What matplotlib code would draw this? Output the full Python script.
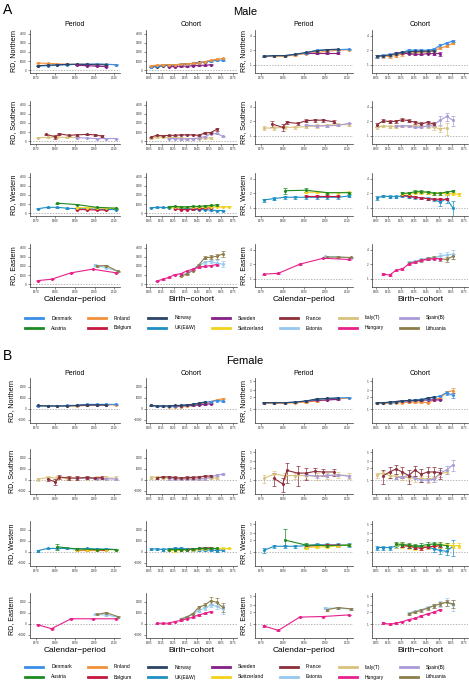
import numpy as np
import matplotlib
matplotlib.use('Agg')
import matplotlib.pyplot as plt
from matplotlib.lines import Line2D

plt.rcParams['font.family'] = ['Liberation Sans', 'DejaVu Sans']

# country colours
COUNTRIES = ['Denmark', 'Finland', 'Norway', 'Sweden', 'France', 'Italy(T)', 'Spain(B)',
             'Austria', 'Belgium', 'UK(E&W)', 'Switzerland', 'Estonia', 'Hungary', 'Lithuania']
COLORS = ['#3a8ee6', '#f0913a', '#2b4466', '#851f85', '#8c2f3a', '#d9c27e', '#a99bd8',
          '#1e8a24', '#c3173f', '#1f8fc4', '#f2d21b', '#95c8ee', '#e8208a', '#8c7d4a']
COLOR = dict(zip(COUNTRIES, COLORS))

REGIONS = ['Northern', 'Southern', 'Western', 'Eastern']

# each series: (first year or list of years, values, error half-width); 5-year steps when a start year is given
# ---------------- MALE ----------------
M_RD_PER_N = {'Finland': (1971, [800, 750, 700, 650, 650, 650, 650, 650, 620], 30),
              'Denmark': (1971, [450, 500, 550, 600, 650, 650, 700, 650, 600], 30),
              'Norway': (1971, [500, 550, 600, 650, 650, 650, 600, 600], 30),
              'Sweden': (1991, [550, 500, 450, 400], 30)}
M_RD_COH_N = {'Norway': (1906, [350, 400, 500, 550, 600, 650, 700, 750, 850, 900], 40),
              'Sweden': (1921, [400, 400, 450, 450, 500, 550, 550, 600], 40),
              'Denmark': (1906, [400, 450, 550, 600, 600, 650, 700, 750, 800, 900, 1000, 1100, 1100], 60),
              'Finland': (1906, [500, 550, 600, 600, 600, 650, 700, 750, 800, 950, 1100, 1200, 1300], 60)}
M_RR_PER_N = {'Finland': (1971, [1.5, 1.5, 1.5, 1.6, 1.7, 1.8, 1.9, 2.0, 2.05], 0.05),
              'Sweden': (1991, [1.75, 1.75, 1.75, 1.75], 0.06),
              'Denmark': (1971, [1.5, 1.55, 1.55, 1.65, 1.75, 2.0, 2.05, 2.05, 2.1], 0.06),
              'Norway': (1971, [1.5, 1.55, 1.55, 1.65, 1.8, 1.95, 2.05, 2.1], 0.05)}
M_RR_COH_N = {'Finland': (1906, [1.5, 1.5, 1.5, 1.55, 1.65, 1.75, 1.75, 1.8, 1.85, 1.95, 2.2, 2.4, 2.8], 0.1),
              'Sweden': (1921, [1.75, 1.75, 1.7, 1.65, 1.65, 1.7, 1.7, 1.7], [0.05, 0.05, 0.05, 0.05, 0.05, 0.06, 0.08, 0.15]),
              'Denmark': (1906, [1.5, 1.55, 1.6, 1.7, 1.8, 2.0, 2.0, 2.0, 2.0, 2.1, 2.5, 2.8, 3.1], 0.12),
              'Norway': (1906, [1.5, 1.55, 1.6, 1.7, 1.8, 1.85, 1.9, 1.9, 1.9, 1.95], 0.06)}

M_RD_PER_S = {'Italy(T)': (1971, [400, 420, 450, 420, 400], 80),
              'Spain(B)': (1991, [400, 350, 300, 300, 300], 40),
              'France': ([1975, 1980, 1982, 1987, 1991, 1996, 2000, 2004],
                         [750, 500, 800, 650, 700, 750, 700, 550], [80, 200, 80, 80, 80, 80, 80, 80])}
M_RD_COH_S = {'Italy(T)': (1906, [350, 450, 450, 400, 400, 350, 300, 300, 300, 350, 350], 80),
              'Spain(B)': (1921, [300, 300, 250, 250, 300, 350, 500, 800, 850, 550], 60),
              'France': (1906, [450, 650, 600, 650, 650, 700, 700, 700, 650, 900, 950, 1300],
                         [60, 60, 60, 60, 60, 60, 60, 60, 60, 80, 100, 200])}
M_RR_PER_S = {'Italy(T)': (1971, [1.45, 1.45, 1.5, 1.5, 1.55, 1.6, 1.65, 1.7, 1.7], 0.12),
              'Spain(B)': (1991, [1.65, 1.6, 1.6, 1.65, 1.8], 0.08),
              'France': ([1975, 1980, 1982, 1987, 1991, 1995, 1999, 2004],
                         [1.75, 1.5, 1.9, 1.8, 2.05, 2.1, 2.1, 1.95], [0.25, 0.25, 0.15, 0.15, 0.15, 0.15, 0.15, 0.15])}
M_RR_COH_S = {'Italy(T)': (1906, [1.5, 1.6, 1.55, 1.55, 1.6, 1.6, 1.6, 1.6, 1.55, 1.5, 1.4, 1.45],
                           [0.1, 0.1, 0.1, 0.1, 0.1, 0.1, 0.1, 0.1, 0.1, 0.15, 0.2, 0.4]),
              'Spain(B)': (1921, [1.6, 1.6, 1.6, 1.5, 1.5, 1.6, 1.7, 2.1, 2.5, 2.1],
                           [0.08, 0.08, 0.08, 0.08, 0.08, 0.1, 0.15, 0.4, 0.5, 0.5]),
              'France': (1906, [1.7, 2.05, 1.95, 2.0, 2.15, 2.05, 1.9, 1.75, 1.9, 1.75], 0.15)}

M_RD_PER_W = {'UK(E&W)': (1971, [500, 650, 650, 550, 500, 500, 450, 420, 400], 50),
              'Belgium': (1991, [400, 400, 350, 350], 40),
              'Switzerland': (1991, [600, 600, 600, 550, 550], 40),
              'Austria': ([1981, 1991, 2001, 2011], [1100, 950, 650, 550], 60)}
M_RD_COH_W = {'UK(E&W)': (1906, [600, 650, 650, 600, 650, 600, 500, 450, 400, 400, 350, 300, 300], 60),
              'Belgium': (1926, [500, 400, 400, 450, 500, 550, 600], 50),
              'Switzerland': (1921, [650, 650, 650, 700, 700, 700, 700, 700, 700, 700, 700], 50),
              'Austria': (1921, [700, 750, 700, 700, 750, 750, 800, 850, 900], 60)}
M_RR_PER_W = {'UK(E&W)': (1971, [1.45, 1.55, 1.65, 1.65, 1.65, 1.65, 1.65, 1.65, 1.75], 0.1),
              'Belgium': (1991, [1.75, 1.75, 1.75, 1.75], 0.06),
              'Switzerland': (1991, [2.1, 2.1, 2.05, 2.05, 2.1], 0.06),
              'Austria': ([1981, 1991, 2001, 2011], [2.25, 2.3, 2.05, 2.05], [0.3, 0.2, 0.1, 0.1])}
M_RR_COH_W = {'UK(E&W)': (1906, [1.6, 1.75, 1.7, 1.7, 1.75, 1.7, 1.65, 1.6, 1.55, 1.5, 1.3, 1.55, 1.0],
                          [0.15, 0.1, 0.1, 0.1, 0.1, 0.1, 0.1, 0.1, 0.1, 0.1, 0.2, 0.3, 0.4]),
              'Belgium': (1926, [1.8, 1.75, 1.65, 1.6, 1.55, 1.5, 1.5, 1.5], 0.08),
              'Switzerland': (1926, [1.9, 1.95, 2.05, 2.05, 2.05, 2.0, 2.0, 1.95, 1.95, 1.9], 0.15),
              'Austria': (1926, [2.0, 2.0, 2.15, 2.15, 2.1, 2.0, 2.0, 2.1, 2.2], 0.15)}

M_RD_PER_E = {'Estonia': ([2000, 2006, 2012], [2100, 1800, 1400], 60),
              'Lithuania': ([2001, 2006, 2012], [2000, 2050, 1400], 60),
              'Hungary': ([1971, 1978, 1988, 1999, 2011], [400, 550, 1250, 1650, 1250], 30)}
M_RD_COH_E = {'Estonia': (1931, [1000, 1200, 1600, 2100, 2400, 2500, 2300, 2200],
                          [50, 50, 60, 80, 150, 200, 300, 350]),
              'Lithuania': (1931, [900, 1100, 1500, 2100, 2900, 2950, 3050, 3300],
                            [50, 50, 60, 80, 150, 200, 250, 300]),
              'Hungary': (1911, [350, 550, 750, 1050, 1150, 1450, 1650, 1850, 1950, 2050, 2150], 40)}
M_RR_PER_E = {'Estonia': ([2000, 2006, 2012], [2.9, 2.8, 2.7], 0.1),
              'Lithuania': ([2001, 2006, 2012], [2.8, 2.8, 2.75], 0.1),
              'Hungary': ([1971, 1978, 1988, 1999, 2011], [1.25, 1.3, 2.0, 2.65, 2.5], 0.03)}
M_RR_COH_E = {'Estonia': (1931, [2.2, 2.3, 2.5, 2.6, 2.7, 3.0, 3.1, 3.2], [0.1, 0.1, 0.15, 0.2, 0.3, 0.4, 0.5, 0.7]),
              'Lithuania': (1931, [2.1, 2.2, 2.4, 2.6, 2.7, 2.6, 2.5, 2.9], [0.1, 0.1, 0.15, 0.15, 0.2, 0.3, 0.3, 0.4]),
              'Hungary': (1911, [1.25, 1.2, 1.5, 1.6, 2.0, 2.2, 2.4, 2.5, 2.6, 2.6], 0.05)}

# ---------------- FEMALE ----------------
F_RD_PER_N = {'Finland': (1971, [250, 250, 250, 250, 250, 300, 350, 350, 350], 20),
              'Sweden': (1991, [300, 350, 350, 350], 20),
              'Denmark': (1971, [250, 250, 250, 300, 300, 400, 400, 400, 400], 20),
              'Norway': (1971, [300, 250, 250, 250, 300, 350, 350, 350], 20)}
F_RD_COH_N = {'Finland': (1906, [300, 250, 250, 200, 200, 200, 250, 300, 400, 500, 650, 800, 900], 40),
              'Sweden': (1921, [250, 250, 250, 300, 300, 350, 400, 450], 30),
              'Denmark': (1906, [300, 250, 250, 250, 250, 300, 350, 400, 500, 600, 650, 750, 700], 50),
              'Norway': (1906, [300, 250, 250, 250, 300, 300, 350, 400, 500, 600], 30)}
F_RR_PER_N = {'Finland': (1971, [1.4, 1.4, 1.4, 1.45, 1.5, 1.6, 1.7, 1.8, 1.9], 0.05),
              'Sweden': (1991, [1.6, 1.65, 1.7, 1.75], 0.05),
              'Denmark': (1971, [1.45, 1.45, 1.45, 1.5, 1.6, 1.75, 1.85, 1.9, 1.95], 0.06),
              'Norway': (1971, [1.45, 1.45, 1.45, 1.5, 1.6, 1.8, 1.85, 1.9], 0.05)}
F_RR_COH_N = {'Finland': (1906, [1.4, 1.4, 1.4, 1.45, 1.45, 1.5, 1.5, 1.5, 1.45, 1.7, 1.9, 2.6, 2.9],
                          [0.05, 0.05, 0.05, 0.05, 0.05, 0.05, 0.05, 0.05, 0.05, 0.08, 0.1, 0.2, 0.4]),
              'Sweden': (1921, [1.55, 1.6, 1.6, 1.65, 1.65, 1.7, 1.7, 1.7], 0.05),
              'Denmark': (1906, [1.45, 1.45, 1.45, 1.5, 1.6, 1.65, 1.7, 1.75, 1.8, 2.0, 2.1, 2.6, 2.2],
                          [0.06, 0.06, 0.06, 0.06, 0.06, 0.06, 0.06, 0.08, 0.1, 0.12, 0.15, 0.3, 0.3]),
              'Norway': (1906, [1.45, 1.45, 1.5, 1.55, 1.6, 1.65, 1.65, 1.7, 1.9, 2.0], 0.06)}

F_RD_PER_S = {'Italy(T)': (1971, [50, 200, 150, 150, 150, 150, 150, 150, 150], 150),
              'Spain(B)': (1991, [150, 150, 100, 100, 50], 60),
              'France': ([1976, 1980, 1982, 1987, 1991, 1996, 2000, 2004],
                         [50, -200, 250, 150, 150, 200, 150, 200], [200, 300, 200, 150, 150, 120, 120, 120])}
F_RD_COH_S = {'Italy(T)': (1906, [200, 250, 200, 150, 100, 100, 100, 100, 100, 100, 150, 150], 120),
              'Spain(B)': (1921, [100, 100, 50, 50, 50, 50, 100, 250, 400, 500], 80),
              'France': (1911, [150, 250, 250, 200, 150, 200, 200, 250, 300, 350], 120)}
F_RR_PER_S = {'Italy(T)': (1971, [1.1, 1.4, 1.3, 1.3, 1.3, 1.25, 1.3, 1.35, 1.3], 0.25),
              'Spain(B)': (1991, [1.35, 1.25, 1.3, 1.35, 1.25], 0.1),
              'France': ([1976, 1980, 1982, 1987, 1991, 1995, 1999, 2004],
                         [1.1, 0.8, 1.75, 1.5, 1.5, 1.65, 1.6, 1.6], [0.4, 0.3, 0.9, 0.8, 0.5, 0.4, 0.35, 0.35])}
F_RR_COH_S = {'Italy(T)': (1906, [1.35, 1.5, 1.3, 1.25, 1.2, 1.15, 1.1, 1.1, 1.05, 1.1, 1.4, 1.6], 0.2),
              'Spain(B)': (1921, [1.15, 1.2, 1.3, 1.15, 1.0, 1.0, 1.05, 1.5, 1.8, 2.4],
                           [0.1, 0.1, 0.1, 0.1, 0.1, 0.1, 0.15, 0.3, 0.4, 0.7]),
              'France': (1911, [1.3, 1.6, 1.9, 1.6, 1.3, 1.8, 1.4, 1.6, 1.6, 1.55], 0.5)}

F_RD_PER_W = {'UK(E&W)': (1971, [100, 300, 300, 300, 250, 300, 250, 250, 200], 80),
              'Belgium': (1991, [200, 200, 200, 200], 50),
              'Switzerland': (1991, [150, 150, 150, 200, 200], 50),
              'Austria': ([1981, 1991, 2001, 2011], [450, 250, 200, 200], [300, 100, 80, 80])}
F_RD_COH_W = {'UK(E&W)': (1906, [250, 250, 200, 250, 300, 300, 250, 200, 200, 150, 150, 100, 150], 120),
              'Switzerland': (1921, [150, 100, 150, 200, 200, 250, 250, 300, 300, 300, 300], 80),
              'Belgium': (1926, [200, 200, 200, 250, 300, 350, 350], 60),
              'Austria': (1921, [200, 200, 200, 200, 250, 300, 300, 300, 300], 80)}
F_RR_PER_W = {'UK(E&W)': (1971, [1.1, 1.4, 1.4, 1.4, 1.45, 1.55, 1.5, 1.5, 1.5], 0.15),
              'Belgium': (1991, [1.4, 1.45, 1.5, 1.5], 0.08),
              'Switzerland': (1991, [1.3, 1.35, 1.35, 1.45, 1.5], 0.1),
              'Austria': ([1981, 1991, 2001, 2011], [2.0, 1.5, 1.45, 1.5],
                          [[0.6, 0.2, 0.1, 0.1], [1.8, 0.2, 0.1, 0.1]])}
F_RR_COH_W = {'UK(E&W)': (1906, [1.3, 1.3, 1.3, 1.4, 1.5, 1.45, 1.4, 1.4, 1.35, 1.2, 1.1, 1.05, 1.4],
                          [0.15, 0.15, 0.15, 0.15, 0.15, 0.15, 0.15, 0.15, 0.15, 0.2, 0.2, 0.2, 0.6]),
              'Switzerland': (1921, [1.5, 1.5, 1.4, 1.35, 1.3, 1.4, 1.4, 1.45, 1.5, 1.45, 1.45], 0.2),
              'Belgium': (1926, [1.45, 1.4, 1.3, 1.25, 1.35, 1.4, 1.45], 0.1),
              'Austria': (1921, [1.6, 1.55, 1.5, 1.4, 1.45, 1.55, 1.6, 1.55, 1.45], 0.2)}

F_RD_PER_E = {'Estonia': ([2000, 2006, 2012], [850, 800, 600], 80),
              'Lithuania': ([2001, 2006, 2012], [850, 1000, 650], 80),
              'Hungary': ([1971, 1978, 1988, 1999, 2011], [-100, -450, 450, 450, 450], 50)}
F_RD_COH_E = {'Estonia': (1931, [450, 650, 900, 1200, 1400, 1700, 1600, 1300],
                          [50, 60, 80, 100, 150, 200, 300, 400]),
              'Lithuania': (1931, [400, 600, 900, 1500, 1700, 2100, 1950, 1500],
                            [50, 60, 80, 150, 200, 300, 350, 400]),
              'Hungary': (1911, [50, 50, 50, 200, 300, 450, 600, 800, 950, 1100], 50)}
F_RR_PER_E = {'Estonia': ([2000, 2006, 2012], [2.5, 2.5, 2.4], 0.15),
              'Lithuania': ([2001, 2006, 2012], [2.3, 2.6, 2.4], 0.15),
              'Hungary': ([1971, 1978, 1988, 1999, 2011], [0.9, 0.7, 1.5, 1.55, 1.7], 0.03)}
F_RR_COH_E = {'Estonia': (1931, [1.9, 2.1, 2.3, 2.6, 2.9, 3.2, 3.6, 3.0], [0.1, 0.1, 0.15, 0.2, 0.3, 0.5, 0.8, 0.9]),
              'Lithuania': (1931, [1.8, 2.0, 2.2, 2.5, 2.9, 3.2, 3.5, 3.2], [0.1, 0.1, 0.15, 0.2, 0.3, 0.4, 0.6, 0.7]),
              'Hungary': (1911, [1.05, 1.0, 1.05, 1.15, 1.3, 1.4, 1.6, 1.8, 2.0, 2.3], 0.05)}

MALE = [[M_RD_PER_N, M_RD_COH_N, M_RR_PER_N, M_RR_COH_N],
        [M_RD_PER_S, M_RD_COH_S, M_RR_PER_S, M_RR_COH_S],
        [M_RD_PER_W, M_RD_COH_W, M_RR_PER_W, M_RR_COH_W],
        [M_RD_PER_E, M_RD_COH_E, M_RR_PER_E, M_RR_COH_E]]
FEMALE = [[F_RD_PER_N, F_RD_COH_N, F_RR_PER_N, F_RR_COH_N],
          [F_RD_PER_S, F_RD_COH_S, F_RR_PER_S, F_RR_COH_S],
          [F_RD_PER_W, F_RD_COH_W, F_RR_PER_W, F_RR_COH_W],
          [F_RD_PER_E, F_RD_COH_E, F_RR_PER_E, F_RR_COH_E]]

PERIOD_TICKS = [1970, 1980, 1990, 2000, 2010]
COHORT_TICKS = list(range(1905, 1976, 10))

W, H = 469, 680
fig = plt.figure(figsize=(W / 100, H / 100), dpi=100)

COL_LEFT = [30, 146, 255, 372]
COL_W = [90, 91, 98, 96]


def px_axes(left, top, w, h):
    return fig.add_axes([left / W, 1 - (top + h) / H, w / W, h / H])


def panel(ax, data, col, sex):
    for name, (x0, vals, err) in data.items():
        if isinstance(x0, list):
            xs = x0
        else:
            xs = x0 + 5 * np.arange(len(vals))
        ax.errorbar(xs, vals, yerr=err, color=COLOR[name], lw=0.8, marker='o', ms=1.2,
                    elinewidth=0.5, capsize=1.2, capthick=0.5)
    for s in ['top', 'right']:
        ax.spines[s].set_visible(False)
    for s in ['left', 'bottom']:
        ax.spines[s].set_linewidth(0.5)
        ax.spines[s].set_color('#333333')
    ax.tick_params(labelsize=2.2, length=1.5, width=0.4, pad=1, colors='#333333')
    if col in (0, 2):
        ax.set_xlim(1967, 2013)
        ax.set_xticks(PERIOD_TICKS)
    else:
        ax.set_xlim(1902, 1978)
        ax.set_xticks(COHORT_TICKS)
    if col < 2:
        ax.axhline(0, color='#999999', lw=0.5, ls=(0, (2, 2)), zorder=0)
        if sex == 'M':
            ax.set_ylim(-300, 4400)
            ax.set_yticks([0, 1000, 2000, 3000, 4000])
        else:
            ax.set_ylim(-1300, 2800)
            ax.set_yticks([-1000, 0, 1000, 2000])
    else:
        ax.axhline(1, color='#999999', lw=0.5, ls=(0, (2, 2)), zorder=0)
        ax.set_yscale('log')
        if sex == 'M':
            ax.set_ylim(0.68, 5.2)
            ticks = [1, 2, 4]
        else:
            ax.set_ylim(0.45, 6.0)
            ticks = [1, 2, 3, 5]
        ax.set_yticks(ticks)
        ax.set_yticklabels([str(t) for t in ticks])
        ax.minorticks_off()


def section(blocks, tops, height, sex, letter, title, letter_y, title_y, head_y, legend_y):
    fig.text(3 / W, 1 - letter_y / H, letter, fontsize=10, ha='left', va='center')
    fig.text(245 / W, 1 - title_y / H, title, fontsize=8, ha='center', va='center')
    for c, head in enumerate(['Period', 'Cohort', 'Period', 'Cohort']):
        fig.text((COL_LEFT[c] + COL_W[c] / 2) / W, 1 - head_y / H, head, fontsize=5,
                 ha='center', va='center')
    for r in range(4):
        for c in range(4):
            ax = px_axes(COL_LEFT[c], tops[r], COL_W[c], height)
            panel(ax, blocks[r][c], c, sex)
            if c in (0, 2):
                meas = 'RD' if c == 0 else 'RR'
                ax.set_ylabel(f'{meas}, {REGIONS[r]}', fontsize=5, labelpad=2)
            if r == 3:
                ax.set_xlabel('Calendar\u2212period' if c in (0, 2) else 'Birth\u2212cohort',
                              fontsize=6, labelpad=1)
    order = ['Denmark', 'Austria', 'Finland', 'Belgium', 'Norway', 'UK(E&W)', 'Sweden',
             'Switzerland', 'France', 'Estonia', 'Italy(T)', 'Hungary', 'Spain(B)', 'Lithuania']
    handles = [Line2D([], [], color=COLOR[n], lw=2) for n in order]
    fig.legend(handles, order, ncol=7, loc='center', bbox_to_anchor=(236 / W, 1 - legend_y / H),
               fontsize=3.6, frameon=False, handlelength=3.6, handletextpad=1.6,
               columnspacing=3.2, labelspacing=1.0)


section(MALE, [30, 101, 173, 244], 43, 'M', 'A', 'Male', 10, 12, 25, 323)
section(FEMALE, [378, 449, 521, 593], 45, 'F', 'B', 'Female', 356, 361, 373, 672)

fig.savefig('out.png', dpi=100)
